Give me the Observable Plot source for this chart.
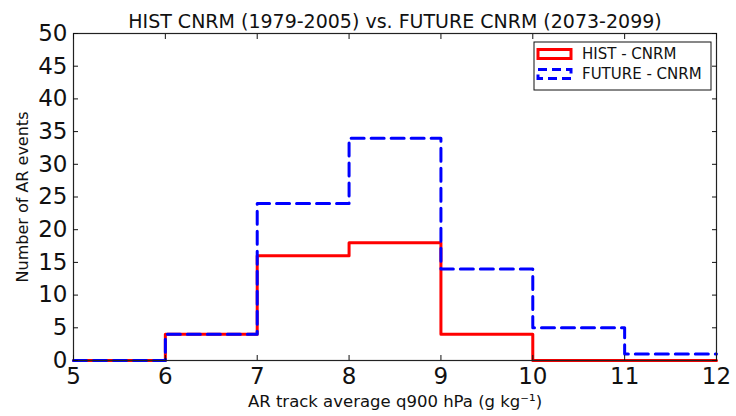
<!DOCTYPE html>
<html><head><meta charset="utf-8">
<script src="https://cdn.jsdelivr.net/npm/d3@7"></script>
<script src="https://cdn.jsdelivr.net/npm/@observablehq/plot@0.6"></script>
<style>
body{margin:0;background:#fff}
svg{font-family:"DejaVu Sans",sans-serif}
</style>
</head><body><div id="chart"></div>
<script>
const binEdges = [5, 6, 7, 8, 9, 10, 11, 12];
const histCounts = [0, 4, 16, 18, 4, 0, 0];
const futureCounts = [0, 4, 24, 34, 14, 5, 1];
const xTicks = [5, 6, 7, 8, 9, 10, 11, 12];
const yTicks = [0, 5, 10, 15, 20, 25, 30, 35, 40, 45, 50];
const seriesNames = ["HIST - CNRM", "FUTURE - CNRM"];
const titleText = "HIST CNRM (1979-2005) vs. FUTURE CNRM (2073-2099)";
const xLabel = "AR track average q900 hPa (g kg\u207B\u00B9)";
const yLabel = "Number of AR events";

function steps(counts) {
  return binEdges.map((e, i) => ({x: e, y: counts[Math.min(i, counts.length - 1)]}));
}

const font = "DejaVu Sans, sans-serif";
const chart = Plot.plot({
  width: 736, height: 416,
  marginLeft: 73, marginRight: 20, marginTop: 33, marginBottom: 56,
  x: {domain: [5, 12]},
  y: {domain: [0, 50]},
  style: {fontFamily: font, background: "white", color: "#111"},
  marks: [
    Plot.line(steps(histCounts), {x: "x", y: "y", curve: "step-after", stroke: "#ff0000", strokeWidth: 3}),
    Plot.line(steps(futureCounts), {x: "x", y: "y", curve: "step-after", stroke: "#0000ff", strokeWidth: 3, strokeDasharray: "13,7"}),
    Plot.frame({stroke: "#222", strokeWidth: 1.2}),
    Plot.axisX(xTicks, {anchor: "bottom", tickSize: 0, tickPadding: 7, fontSize: 23, label: null}),
    Plot.axisX(xTicks, {anchor: "bottom", tickSize: 5, dy: -5, tickFormat: () => "", label: null}),
    Plot.axisX(xTicks, {anchor: "top", tickSize: 5, dy: 5, tickFormat: () => "", label: null}),
    Plot.axisY(yTicks, {anchor: "left", tickSize: 0, tickPadding: 6, fontSize: 23, label: null}),
    Plot.axisY(yTicks, {anchor: "left", tickSize: 5, dx: 5, tickFormat: () => "", label: null}),
    Plot.axisY(yTicks, {anchor: "right", tickSize: 5, dx: -5, tickFormat: () => "", label: null}),
    Plot.text([titleText], {frameAnchor: "top", lineAnchor: "bottom", textAnchor: "middle", dy: -6, fontSize: 19, text: d => d}),
    Plot.text([xLabel], {frameAnchor: "bottom", lineAnchor: "top", textAnchor: "middle", dy: 35, fontSize: 16.5, text: d => d}),
    Plot.text([yLabel], {frameAnchor: "left", rotate: -90, textAnchor: "middle", dx: -51, fontSize: 16, text: d => d})
  ]
});
document.getElementById("chart").appendChild(chart);

// legend
const svg = d3.select(chart);
const lg = svg.append("g").attr("font-family", font).attr("font-size", 15).attr("text-anchor", "start");
lg.append("rect").attr("x", 534).attr("y", 42).attr("width", 177).attr("height", 48)
  .attr("fill", "white").attr("stroke", "#111").attr("stroke-width", 1);
const swatches = [
  {stroke: "#ff0000", dash: null},
  {stroke: "#0000ff", dash: "9,5"}
];
seriesNames.forEach((name, i) => {
  const cy = 54 + i * 20;
  lg.append("rect").attr("x", 538).attr("y", cy - 4.5).attr("width", 33).attr("height", 9)
    .attr("fill", "white").attr("stroke", swatches[i].stroke).attr("stroke-width", 3)
    .attr("stroke-dasharray", swatches[i].dash);
  lg.append("text").attr("x", 582).attr("y", cy).attr("dy", "0.35em").attr("fill", "#111").text(name);
});
</script>
</body></html>
